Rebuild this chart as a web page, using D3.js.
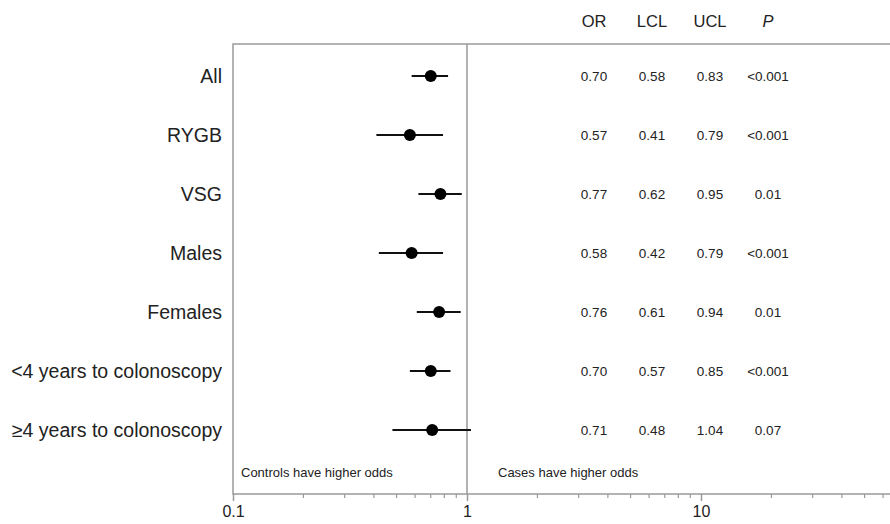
<!DOCTYPE html>
<html lang="en">
<head>
  <meta charset="UTF-8">
  <title>Forest plot</title>
  <style>
    body { margin: 0; background: #fff; }
    svg { font-family: 'Liberation Sans', Arial, sans-serif; }
  </style>
</head>
<body>
  <div id="svg"></div>
  <script src="https://d3js.org/d3.v7.min.js"></script>
  <script>
    const groups = ['All', 'RYGB', 'VSG', 'Males', 'Females', '<4 years to colonoscopy', '\u22654 years to colonoscopy']
    const or = [0.70, 0.57, 0.77, 0.58, 0.76, 0.70, 0.71]
    const lcl = [0.58, 0.41, 0.62, 0.42, 0.61, 0.57, 0.48]
    const ucl = [0.83, 0.79, 0.95, 0.79, 0.94, 0.85, 1.04]
    const pval = ['<0.001', '<0.001', '0.01', '<0.001', '0.01', '<0.001', '0.07']
    const columns = ['OR', 'LCL', 'UCL', 'P']
    const tickValues = [0.1, 1, 10]

    const width = 890
    const height = 524
    const svg = d3.select('#svg').append('svg').attr('width', width).attr('height', height)

    const box = { left: 233, right: 935, top: 44, bottom: 494 }

    const xScale = d3.scaleLog().domain([0.1, 100]).range([box.left, box.right])
    const yScale = d3.scalePoint().domain(groups).range([76, 430])
    const colScale = d3.scalePoint().domain(columns).range([594, 768])

    // plot frame
    svg.append('rect')
      .attr('x', box.left).attr('y', box.top)
      .attr('width', box.right - box.left).attr('height', box.bottom - box.top)
      .attr('fill', 'none').attr('stroke', '#9a9a9a').attr('stroke-width', 1.5)

    // reference line at 1
    svg.append('line')
      .attr('x1', xScale(1)).attr('x2', xScale(1))
      .attr('y1', box.top).attr('y2', box.bottom)
      .attr('stroke', '#9a9a9a').attr('stroke-width', 1.5)

    // axis with minor ticks
    const minor = d3.range(2, 10).map(d => d / 10).concat(d3.range(2, 10), d3.range(20, 100, 10))
    svg.append('g').attr('transform', `translate(0,${box.bottom})`)
      .selectAll('line').data(minor).enter().append('line')
      .attr('x1', d => xScale(d)).attr('x2', d => xScale(d))
      .attr('y1', 0).attr('y2', 4)
      .attr('stroke', '#9a9a9a').attr('stroke-width', 1.2)

    const xAxis = d3.axisBottom(xScale).tickValues(tickValues).tickFormat(d3.format('')).tickSize(7).tickPadding(5)
    const gX = svg.append('g').attr('transform', `translate(0,${box.bottom})`).call(xAxis)
    gX.select('.domain').remove()
    gX.selectAll('.tick line').attr('stroke', '#9a9a9a').attr('stroke-width', 1.5)
    gX.selectAll('.tick text').attr('font-size', 16).attr('fill', '#222')
      .attr('font-family', "'Liberation Sans', Arial, sans-serif")

    // row labels
    svg.selectAll('text.label').data(groups).enter().append('text')
      .attr('class', 'label')
      .attr('x', 222).attr('y', d => yScale(d))
      .attr('dy', '0.35em').attr('text-anchor', 'end')
      .attr('font-size', 19.5).attr('fill', '#222')
      .text(d => d)

    // confidence intervals
    svg.selectAll('line.ci').data(groups).enter().append('line')
      .attr('class', 'ci')
      .attr('x1', (d, i) => xScale(lcl[i])).attr('x2', (d, i) => xScale(ucl[i]))
      .attr('y1', d => yScale(d)).attr('y2', d => yScale(d))
      .attr('stroke', '#111').attr('stroke-width', 2)

    svg.selectAll('circle.pt').data(groups).enter().append('circle')
      .attr('class', 'pt')
      .attr('cx', (d, i) => xScale(or[i])).attr('cy', d => yScale(d))
      .attr('r', 6).attr('fill', '#000')

    // header
    svg.selectAll('text.head').data(columns).enter().append('text')
      .attr('class', 'head')
      .attr('x', d => colScale(d)).attr('y', 21)
      .attr('dy', '0.35em').attr('text-anchor', 'middle')
      .attr('font-size', 16.5).attr('fill', '#222')
      .attr('font-style', d => d === 'P' ? 'italic' : 'normal')
      .text(d => d)

    // value table
    const tableCols = [or.map(d => d.toFixed(2)), lcl.map(d => d.toFixed(2)), ucl.map(d => d.toFixed(2)), pval]
    tableCols.forEach((vals, c) => {
      svg.append('g').selectAll('text').data(vals).enter().append('text')
        .attr('x', colScale(columns[c])).attr('y', (d, i) => yScale(groups[i]))
        .attr('dy', '0.35em').attr('text-anchor', 'middle')
        .attr('font-size', 13.5).attr('fill', '#222')
        .text(d => d)
    })

    // direction notes
    svg.append('text').attr('x', 241).attr('y', 472).attr('dy', '0.35em')
      .attr('font-size', 13).attr('fill', '#222').text('Controls have higher odds')
    svg.append('text').attr('x', 498).attr('y', 472).attr('dy', '0.35em')
      .attr('font-size', 13).attr('fill', '#222').text('Cases have higher odds')
  </script>
</body>
</html>
